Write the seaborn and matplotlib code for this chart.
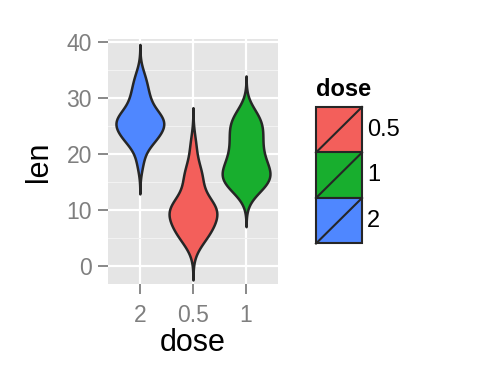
import numpy as np
import pandas as pd
import seaborn as sns
import matplotlib.pyplot as plt
from matplotlib.patches import Rectangle
from matplotlib.lines import Line2D

plt.rcParams["font.family"] = ["Liberation Sans", "DejaVu Sans"]

# ToothGrowth len values by dose
len_05 = [4.2, 11.5, 7.3, 5.8, 6.4, 10, 11.2, 11.2, 5.2, 7,
          15.2, 21.5, 17.6, 9.7, 14.5, 10, 8.2, 9.4, 16.5, 9.7]
len_1 = [16.5, 16.5, 15.2, 17.3, 22.5, 17.3, 13.6, 14.5, 18.8, 15.5,
         19.7, 23.3, 23.6, 26.4, 20, 25.2, 25.8, 21.2, 14.5, 27.3]
len_2 = [23.6, 18.5, 33.9, 25.5, 26.4, 32.5, 26.7, 21.5, 23.3, 29.5,
         25.5, 26.4, 22.4, 24.5, 24.8, 30.9, 26.4, 27.3, 29.4, 23]
order = ["2", "0.5", "1"]
legend_levels = ["0.5", "1", "2"]
colors = {"0.5": "#F35F5B", "1": "#18AE2E", "2": "#4F87FF"}
yticks = [0, 10, 20, 30, 40]

df = pd.DataFrame({
    "dose": ["0.5"] * len(len_05) + ["1"] * len(len_1) + ["2"] * len(len_2),
    "len": len_05 + len_1 + len_2,
})

fig = plt.figure(figsize=(4.8, 3.84), dpi=100)
ax = fig.add_axes([0.225, 0.260, 0.354, 0.638])
ax.set_facecolor("#E5E5E5")

sns.violinplot(data=df, x="dose", y="len", hue="dose", order=order,
               hue_order=legend_levels, palette=colors, legend=False,
               inner=None, cut=3, bw_method=0.5, width=0.9,
               linewidth=1.8, linecolor="#262626", saturation=1, ax=ax)

ax.set_xlim(-0.6, 2.6)
ax.set_ylim(-3.3, 40.5)
ax.set_yticks(yticks)
ax.set_yticks([5, 15, 25, 35], minor=True)
ax.grid(which="major", color="white", linewidth=1.6)
ax.grid(which="minor", axis="y", color="#F2F2F2", linewidth=0.8)
ax.set_axisbelow(True)
for s in ax.spines.values():
    s.set_visible(False)
ax.tick_params(which="major", length=7, width=1.3, color="#7F7F7F",
               labelcolor="#7F7F7F", labelsize=16.5)
ax.tick_params(axis="y", pad=4.5)
ax.tick_params(axis="x", pad=7)
ax.tick_params(which="minor", length=0)
ax.set_xlabel("dose", fontsize=22, labelpad=1)
ax.set_ylabel("len", fontsize=22, labelpad=9)

# legend
fig.text(316 / 480, 1 - 90 / 384, "dose", fontsize=17, fontweight="bold",
         va="center", ha="left")
key_w, key_h = 46 / 480, 45.5 / 384
top = 1 - 107 / 384
for i, lev in enumerate(legend_levels):
    y0 = top - (i + 1) * key_h
    x0 = 316 / 480
    fig.patches.append(Rectangle((x0, y0), key_w, key_h, transform=fig.transFigure,
                                 facecolor=colors[lev], edgecolor="#262626",
                                 linewidth=1.5, zorder=3))
    fig.lines.append(Line2D([x0, x0 + key_w], [y0, y0 + key_h],
                            transform=fig.transFigure, color="#262626",
                            linewidth=1.5, zorder=4))
    fig.text(x0 + key_w + 5 / 480, y0 + key_h / 2, lev, fontsize=17,
             va="center", ha="left")

fig.savefig("out.png", dpi=100)
